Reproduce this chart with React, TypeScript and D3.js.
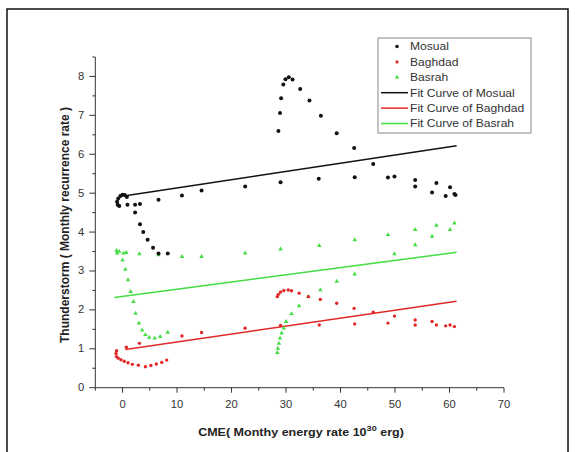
import React from "react";
import * as d3 from "d3";

const mosualX = [0.8, 0.4, 0.0, -0.4, -0.8, -1.0, -0.9, -0.6, 0.9, 2.3, 3.2, 2.3, 3.2, 3.8, 4.6, 5.6, 6.6, 8.3, 6.6, 10.9, 14.5, 22.5, 29.0, 36.0, 42.6, 48.7, 49.9, 53.7, 53.7, 57.6, 56.8, 59.3, 60.1, 60.9, 61.1,
  28.6, 28.9, 29.1, 29.5, 29.9, 30.5, 31.2, 32.6, 34.3, 36.4, 39.3, 42.5, 46.0];
const mosualY = [4.9, 4.95, 4.96, 4.93, 4.86, 4.78, 4.7, 4.67, 4.7, 4.7, 4.72, 4.5, 4.2, 4.0, 3.8, 3.6, 3.45, 3.45, 4.83, 4.94, 5.07, 5.17, 5.28, 5.37, 5.41, 5.4, 5.43, 5.34, 5.17, 5.26, 5.02, 4.93, 5.15, 4.98, 4.95,
  6.6, 7.06, 7.44, 7.79, 7.93, 7.98, 7.92, 7.68, 7.38, 6.99, 6.54, 6.16, 5.75];

const baghdadX = [-1.1, -1.2, -1.1, -0.8, -0.3, 0.3, 1.0, 1.8, 2.9, 4.2, 5.2, 6.2, 7.2, 8.1, 0.7, 3.1, 10.9, 14.5, 22.5, 29.0,
  28.4, 28.6, 29.0, 29.6, 30.4, 31.0, 32.4, 34.1, 36.3, 39.3, 42.5, 46.0, 49.9, 36.1, 42.6, 48.7, 53.7, 53.7, 56.8, 57.6, 59.3, 60.1, 60.9];
const baghdadY = [0.95, 0.88, 0.8, 0.76, 0.72, 0.68, 0.64, 0.6, 0.58, 0.54, 0.57, 0.61, 0.65, 0.71, 1.04, 1.14, 1.33, 1.42, 1.53, 1.6,
  2.34, 2.4, 2.46, 2.5, 2.51, 2.49, 2.43, 2.34, 2.27, 2.17, 2.04, 1.94, 1.84, 1.61, 1.64, 1.66, 1.74, 1.61, 1.7, 1.61, 1.59, 1.61, 1.57];

const basrahX = [-1.1, -1.0, -0.6, 0.2, 0.0, 0.5, 1.0, 1.5, 2.0, 2.4, 3.0, 3.6, 4.2, 4.9, 5.9, 6.9, 8.3, 0.7, 3.1, 6.6, 10.9, 14.5, 22.5, 29.0, 36.1, 42.6, 48.7, 53.7, 57.6, 60.9, 60.1, 56.8, 53.7, 49.9, 42.6, 39.3, 36.3, 34.1, 32.4, 31.0, 30.0, 29.6, 29.2, 28.9, 28.7, 28.5, 28.4];
const basrahY = [3.52, 3.46, 3.5, 3.46, 3.28, 3.04, 2.77, 2.47, 2.21, 1.91, 1.66, 1.48, 1.36, 1.29, 1.27, 1.31, 1.42, 3.47, 3.44, 3.41, 3.37, 3.37, 3.46, 3.56, 3.65, 3.8, 3.93, 4.06, 4.17, 4.23, 4.06, 3.89, 3.67, 3.44, 2.92, 2.73, 2.51, 2.34, 2.1, 1.9, 1.7, 1.53, 1.4, 1.27, 1.14, 1.01, 0.9];

const fitMosualX = [0.2, 61.3];
const fitMosualY = [4.93, 6.22];
const fitBaghdadX = [0.5, 61.3];
const fitBaghdadY = [0.98, 2.22];
const fitBasrahX = [-1.5, 61.3];
const fitBasrahY = [2.32, 3.48];

const xTicks = [0, 10, 20, 30, 40, 50, 60, 70];
const yTicks = [0, 1, 2, 3, 4, 5, 6, 7, 8];

const legendLabels = ["Mosual", "Baghdad", "Basrah", "Fit Curve of Mosual", "Fit Curve of Baghdad", "Fit Curve of Basrah"];

const BLACK = "#111";
const RED = "#e02828";
const GREEN = "#44dd44";

export default function App() {
  const x = d3.scaleLinear().domain([-5, 70]).range([95.3, 504]);
  const y = d3.scaleLinear().domain([0, 8.5]).range([387.7, 57]);
  const line = d3.line<[number, number]>().x((d) => x(d[0])).y((d) => y(d[1]));
  const font = "'Liberation Sans', Arial, sans-serif";
  const minorX = d3.range(-5, 70.01, 5);
  const minorY = d3.range(0, 8.51, 0.5);
  const tri = d3.symbol().type(d3.symbolTriangle).size(9)() as string;

  const fits: [number[], number[], string][] = [
    [fitMosualX, fitMosualY, BLACK],
    [fitBaghdadX, fitBaghdadY, RED],
    [fitBasrahX, fitBasrahY, GREEN],
  ];

  return (
    <svg width={575} height={452} style={{ position: "absolute", left: 0, top: 0, background: "#fff" }} fontFamily={font}>
      <rect x={7} y={9} width={561} height={460} fill="none" stroke="#111" strokeWidth={1.5} />
      {/* axes */}
      <line x1={x(-5)} x2={x(70)} y1={y(0)} y2={y(0)} stroke="#333" strokeWidth={1} />
      <line x1={x(-5)} x2={x(-5)} y1={y(0)} y2={y(8.5)} stroke="#333" strokeWidth={1} />
      {minorX.map((v) => (
        <line key={"mx" + v} x1={x(v)} x2={x(v)} y1={y(0)} y2={y(0) + (v % 10 === 0 ? 5 : 3)} stroke="#333" />
      ))}
      {minorY.map((v) => (
        <line key={"my" + v} x1={x(-5)} x2={x(-5) - (v % 1 === 0 ? 6 : 3)} y1={y(v)} y2={y(v)} stroke="#333" />
      ))}
      {xTicks.map((v) => (
        <g key={"xt" + v} transform={`translate(${x(v)},${y(0) + 20}) scale(1.12,1)`}>
          <text x={0} y={0} fontSize={10} textAnchor="middle" fill="#333">{v}</text>
        </g>
      ))}
      {yTicks.map((v) => (
        <g key={"yt" + v} transform={`translate(${x(-5) - 11},${y(v) + 3.5}) scale(1.12,1)`}>
          <text x={0} y={0} fontSize={10} textAnchor="end" fill="#333">{v}</text>
        </g>
      ))}
      <text transform="translate(69,225) rotate(-90)" fontSize={12} fontWeight="bold" textAnchor="middle" fill="#222">
        Thunderstorm ( Monthly recurrence rate )
      </text>
      <g transform="translate(301,436) scale(1.14,1)">
        <text x={0} y={0} fontSize={11} fontWeight="bold" textAnchor="middle" fill="#222">
          CME( Monthy energy rate 10<tspan dy={-5} fontSize={8}>30</tspan><tspan dy={5}> erg)</tspan>
        </text>
      </g>
      {/* fit lines */}
      {fits.map(([xs, ys, c], i) => (
        <path key={"f" + i} d={line(xs.map((v, j) => [v, ys[j]] as [number, number])) as string} fill="none" stroke={c} strokeWidth={1.5} />
      ))}
      {/* points */}
      {basrahX.map((v, i) => (
        <path key={"g" + i} d={tri} transform={`translate(${x(v)},${y(basrahY[i])})`} fill={GREEN} />
      ))}
      {baghdadX.map((v, i) => (
        <circle key={"r" + i} cx={x(v)} cy={y(baghdadY[i])} r={1.7} fill={RED} />
      ))}
      {mosualX.map((v, i) => (
        <circle key={"b" + i} cx={x(v)} cy={y(mosualY[i])} r={2} fill={BLACK} />
      ))}
      {/* legend */}
      <rect x={378} y={38} width={153} height={95} fill="#fff" stroke="#888" strokeWidth={1} />
      {legendLabels.map((t, i) => {
        const yy = 46.5 + i * 15.4;
        const col = [BLACK, RED, GREEN][i % 3];
        return (
          <g key={"l" + i}>
            {i === 0 && <circle cx={397} cy={yy} r={1.8} fill={col} />}
            {i === 1 && <circle cx={397} cy={yy} r={1.6} fill={col} />}
            {i === 2 && <path d={tri} transform={`translate(397,${yy})`} fill={col} />}
            {i >= 3 && <line x1={381} x2={408} y1={yy} y2={yy} stroke={col} strokeWidth={1.5} />}
            <g transform={`translate(410,${yy + 3.8}) scale(1.1,1)`}>
              <text x={0} y={0} fontSize={11} fill="#333">{t}</text>
            </g>
          </g>
        );
      })}
    </svg>
  );
}
